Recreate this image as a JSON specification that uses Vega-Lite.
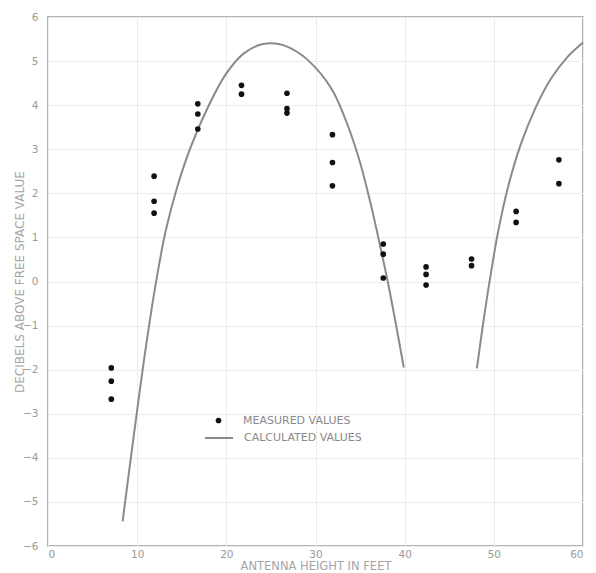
{
  "$schema": "https://vega.github.io/schema/vega-lite/v6.json",
  "autosize": "none",
  "width": 535,
  "height": 529,
  "padding": {"left": 48, "top": 17, "right": 13, "bottom": 27},
  "background": "white",
  "config": {
    "view": {"stroke": "#9a9a9a", "strokeWidth": 1.5},
    "font": "DejaVu Sans",
    "axis": {"labelColor": "#9a9a9a", "titleColor": "#a5a5a5", "domain": false, "ticks": false, "gridColor": "#ececec", "gridWidth": 1, "labelFont": "DejaVu Sans", "titleFont": "DejaVu Sans", "titleFontWeight": "normal"},
    "legend": {"labelColor": "#8a8a8a", "labelFont": "DejaVu Sans", "labelFontSize": 11, "padding": 0}
  },
  "datasets": {
    "measured": [
      {"h": 7.1, "db": -1.96, "s": "MEASURED VALUES"},
      {"h": 7.1, "db": -2.26, "s": "MEASURED VALUES"},
      {"h": 7.1, "db": -2.67, "s": "MEASURED VALUES"},
      {"h": 11.9, "db": 2.39, "s": "MEASURED VALUES"},
      {"h": 11.9, "db": 1.82, "s": "MEASURED VALUES"},
      {"h": 11.9, "db": 1.55, "s": "MEASURED VALUES"},
      {"h": 16.8, "db": 4.03, "s": "MEASURED VALUES"},
      {"h": 16.8, "db": 3.80, "s": "MEASURED VALUES"},
      {"h": 16.8, "db": 3.46, "s": "MEASURED VALUES"},
      {"h": 21.7, "db": 4.45, "s": "MEASURED VALUES"},
      {"h": 21.7, "db": 4.25, "s": "MEASURED VALUES"},
      {"h": 26.8, "db": 4.27, "s": "MEASURED VALUES"},
      {"h": 26.8, "db": 3.92, "s": "MEASURED VALUES"},
      {"h": 26.8, "db": 3.82, "s": "MEASURED VALUES"},
      {"h": 31.9, "db": 3.33, "s": "MEASURED VALUES"},
      {"h": 31.9, "db": 2.70, "s": "MEASURED VALUES"},
      {"h": 31.9, "db": 2.17, "s": "MEASURED VALUES"},
      {"h": 37.6, "db": 0.85, "s": "MEASURED VALUES"},
      {"h": 37.6, "db": 0.62, "s": "MEASURED VALUES"},
      {"h": 37.6, "db": 0.08, "s": "MEASURED VALUES"},
      {"h": 42.4, "db": 0.33, "s": "MEASURED VALUES"},
      {"h": 42.4, "db": 0.16, "s": "MEASURED VALUES"},
      {"h": 42.4, "db": -0.08, "s": "MEASURED VALUES"},
      {"h": 47.5, "db": 0.51, "s": "MEASURED VALUES"},
      {"h": 47.5, "db": 0.36, "s": "MEASURED VALUES"},
      {"h": 52.5, "db": 1.59, "s": "MEASURED VALUES"},
      {"h": 52.5, "db": 1.34, "s": "MEASURED VALUES"},
      {"h": 57.3, "db": 2.76, "s": "MEASURED VALUES"},
      {"h": 57.3, "db": 2.22, "s": "MEASURED VALUES"}
    ],
    "calculated": [
      {"h": 8.37, "db": -5.44, "b": "A", "s": "CALCULATED VALUES"},
      {"h": 9.29, "db": -4.0, "b": "A", "s": "CALCULATED VALUES"},
      {"h": 10.0, "db": -2.92, "b": "A", "s": "CALCULATED VALUES"},
      {"h": 10.75, "db": -1.8, "b": "A", "s": "CALCULATED VALUES"},
      {"h": 11.5, "db": -0.78, "b": "A", "s": "CALCULATED VALUES"},
      {"h": 12.3, "db": 0.2, "b": "A", "s": "CALCULATED VALUES"},
      {"h": 13.2, "db": 1.15, "b": "A", "s": "CALCULATED VALUES"},
      {"h": 14.5, "db": 2.15, "b": "A", "s": "CALCULATED VALUES"},
      {"h": 16.0, "db": 3.05, "b": "A", "s": "CALCULATED VALUES"},
      {"h": 18.0, "db": 3.98, "b": "A", "s": "CALCULATED VALUES"},
      {"h": 20.0, "db": 4.72, "b": "A", "s": "CALCULATED VALUES"},
      {"h": 22.0, "db": 5.18, "b": "A", "s": "CALCULATED VALUES"},
      {"h": 24.0, "db": 5.38, "b": "A", "s": "CALCULATED VALUES"},
      {"h": 26.0, "db": 5.38, "b": "A", "s": "CALCULATED VALUES"},
      {"h": 28.0, "db": 5.2, "b": "A", "s": "CALCULATED VALUES"},
      {"h": 30.0, "db": 4.85, "b": "A", "s": "CALCULATED VALUES"},
      {"h": 32.0, "db": 4.3, "b": "A", "s": "CALCULATED VALUES"},
      {"h": 33.6, "db": 3.55, "b": "A", "s": "CALCULATED VALUES"},
      {"h": 35.0, "db": 2.7, "b": "A", "s": "CALCULATED VALUES"},
      {"h": 36.2, "db": 1.75, "b": "A", "s": "CALCULATED VALUES"},
      {"h": 37.2, "db": 0.85, "b": "A", "s": "CALCULATED VALUES"},
      {"h": 38.1, "db": 0.0, "b": "A", "s": "CALCULATED VALUES"},
      {"h": 39.0, "db": -0.95, "b": "A", "s": "CALCULATED VALUES"},
      {"h": 39.9, "db": -1.95, "b": "A", "s": "CALCULATED VALUES"},
      {"h": 48.1, "db": -1.97, "b": "B", "s": "CALCULATED VALUES"},
      {"h": 48.8, "db": -0.95, "b": "B", "s": "CALCULATED VALUES"},
      {"h": 49.6, "db": 0.1, "b": "B", "s": "CALCULATED VALUES"},
      {"h": 50.5, "db": 1.15, "b": "B", "s": "CALCULATED VALUES"},
      {"h": 51.6, "db": 2.15, "b": "B", "s": "CALCULATED VALUES"},
      {"h": 53.0, "db": 3.1, "b": "B", "s": "CALCULATED VALUES"},
      {"h": 54.7, "db": 3.95, "b": "B", "s": "CALCULATED VALUES"},
      {"h": 56.4, "db": 4.6, "b": "B", "s": "CALCULATED VALUES"},
      {"h": 58.2, "db": 5.08, "b": "B", "s": "CALCULATED VALUES"},
      {"h": 60.0, "db": 5.42, "b": "B", "s": "CALCULATED VALUES"}
    ],
    "zero": [{"db": 0}]
  },
  "encoding": {
    "x": {"field": "h", "type": "quantitative"},
    "y": {"field": "db", "type": "quantitative"}
  },
  "layer": [
    {
      "data": {"name": "zero"},
      "mark": {"type": "rule", "color": "#9a9a9a", "strokeWidth": 1.5},
      "encoding": {
        "x": {"datum": 0, "type": "quantitative"},
        "x2": {"datum": 60},
        "y": {"field": "db", "type": "quantitative",
          "scale": {"domain": [-6, 6], "nice": false},
          "axis": {"values": [-6, -5, -4, -3, -2, -1, 0, 1, 2, 3, 4, 5, 6], "labelFontSize": 10.5, "labelPadding": 10, "title": "DECIBELS ABOVE FREE SPACE VALUE", "titleFontSize": 12, "titlePadding": -4}
        }
      }
    },
    {
      "data": {"name": "calculated"},
      "mark": {"type": "line", "strokeWidth": 2, "interpolate": "catmull-rom"},
      "encoding": {
        "x": {"field": "h", "type": "quantitative",
          "scale": {"domain": [0, 60], "nice": false},
          "axis": {"values": [0, 10, 20, 30, 40, 50, 60], "labelFontSize": 10.5, "labelPadding": 3, "title": "ANTENNA HEIGHT IN FEET", "titleFontSize": 11.5, "titlePadding": 1}
        },
        "detail": {"field": "b"},
        "stroke": {"field": "s", "type": "nominal",
          "scale": {"domain": ["CALCULATED VALUES"], "range": ["#8a8a8a"]},
          "legend": {"title": null, "orient": "none", "legendX": 156, "legendY": 406, "symbolType": "stroke", "symbolSize": 784, "symbolStrokeWidth": 2, "labelOffset": 10}
        }
      }
    },
    {
      "data": {"name": "measured"},
      "mark": {"type": "point", "filled": true, "size": 32, "opacity": 1},
      "encoding": {
        "fill": {"field": "s", "type": "nominal",
          "scale": {"domain": ["MEASURED VALUES"], "range": ["#111111"]},
          "legend": {"title": null, "orient": "none", "legendX": 165, "legendY": 398, "symbolType": "circle", "symbolSize": 32, "symbolStrokeWidth": 0, "labelOffset": 19}
        }
      }
    }
  ]
}
